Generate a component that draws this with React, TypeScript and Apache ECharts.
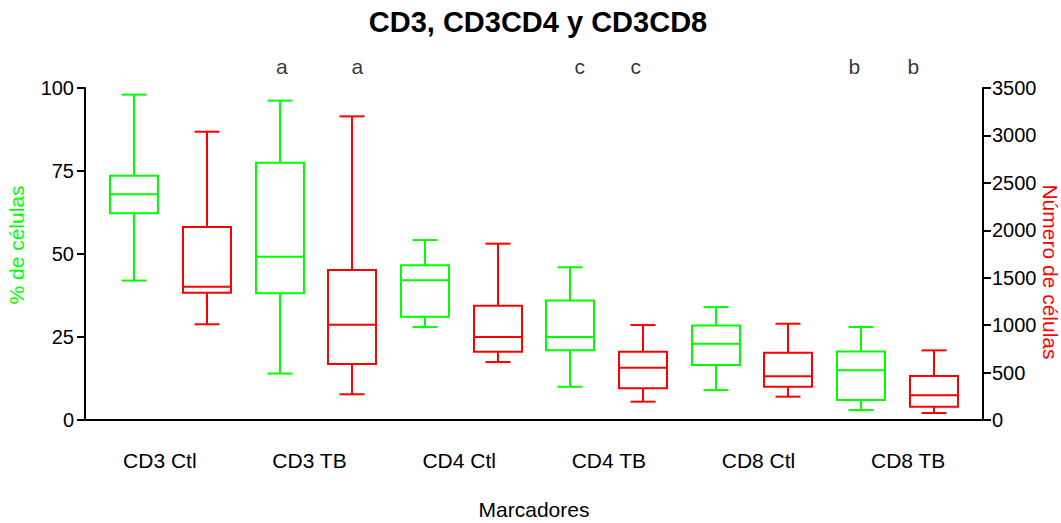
import React, { useEffect, useRef } from "react";
import * as echarts from "echarts";

const categories = ["CD3 Ctl", "CD3 TB", "CD4 Ctl", "CD4 TB", "CD8 Ctl", "CD8 TB"];
// [min, Q1, median, Q3, max] — % de células (left axis)
const pctStats = [
  [42, 62.3, 68, 73.6, 98],
  [14, 38.2, 49.2, 77.5, 96.2],
  [28, 31.1, 42.1, 46.6, 54.2],
  [10, 21, 25, 36, 46],
  [9, 16.6, 23, 28.5, 34],
  [3, 6, 15, 20.6, 28],
];
// [min, Q1, median, Q3, max] — Número de células (right axis)
const countStats = [
  [1009, 1342, 1405, 2035, 3039],
  [271, 590, 1005, 1581, 3201],
  [611, 720, 875, 1205, 1859],
  [193, 334, 552, 720, 1001],
  [246, 351, 460, 710, 1015],
  [74, 141, 260, 464, 734],
];
const leftTicks = { min: 0, max: 100, interval: 25 };
const rightTicks = { min: 0, max: 3500, interval: 500 };
const letters = ["a", "a", "c", "c", "b", "b"];
const letterX = [3.03, 4.07, 7.13, 7.9, 10.91, 11.72];
const letterY = 106.6;

const GREEN = "#00ff00";
const RED = "#ff0000";
const FONT = "Liberation Sans, Arial, sans-serif";

function makeRender(color: string) {
  const boxW = 48;
  const capW = 25;
  return (params: any, api: any) => {
    const x = api.value(0);
    const mn = api.coord([x, api.value(1)]);
    const q1 = api.coord([x, api.value(2)]);
    const md = api.coord([x, api.value(3)]);
    const q3 = api.coord([x, api.value(4)]);
    const mx = api.coord([x, api.value(5)]);
    const cx = Math.round(mn[0]);
    const style = { stroke: color, lineWidth: 2, fill: "none" };
    return {
      type: "group",
      children: [
        { type: "line", shape: { x1: cx, y1: mx[1], x2: cx, y2: q3[1] }, style },
        { type: "line", shape: { x1: cx - capW / 2, y1: mx[1], x2: cx + capW / 2, y2: mx[1] }, style },
        { type: "rect", shape: { x: cx - boxW / 2, y: q3[1], width: boxW, height: q1[1] - q3[1] }, style },
        { type: "line", shape: { x1: cx - boxW / 2, y1: md[1], x2: cx + boxW / 2, y2: md[1] }, style },
        { type: "line", shape: { x1: cx, y1: q1[1], x2: cx, y2: mn[1] }, style },
        { type: "line", shape: { x1: cx - capW / 2, y1: mn[1], x2: cx + capW / 2, y2: mn[1] }, style },
      ],
    };
  };
}

export default function App() {
  const ref = useRef<HTMLDivElement>(null);
  useEffect(() => {
    document.body.style.margin = "0";
    const chart = echarts.init(ref.current!, null, { renderer: "svg" });
    const greenData = pctStats.map((s, i) => [2 * i + 1, ...s]);
    const redData = countStats.map((s, i) => [2 * i + 2, ...s]);
    const axisLine = { show: true, onZero: false, lineStyle: { color: "#000", width: 2 } };
    chart.setOption({
      animation: false,
      backgroundColor: "#fff",
      textStyle: { fontFamily: FONT },
      title: {
        text: "CD3, CD3CD4 y CD3CD8",
        left: 533,
        textAlign: "center",
        top: 2,
        textStyle: { fontSize: 29, fontWeight: "bold", color: "#000", fontFamily: FONT },
      },
      grid: { left: 85, right: 78, top: 88, bottom: 103, containLabel: false, outerBoundsMode: "none" },
      xAxis: [
        {
          type: "value",
          min: 0.32,
          max: 12.68,
          axisLine,
          axisTick: { show: false },
          axisLabel: { show: false },
          splitLine: { show: false },
        },
        {
          type: "category",
          data: categories,
          position: "bottom",
          axisLine: { show: false },
          axisTick: { show: false },
          axisLabel: { fontSize: 21, color: "#000", margin: 30, fontFamily: FONT },
          name: "Marcadores",
          nameLocation: "middle",
          nameGap: 79,
          nameMoveOverlap: false,
          nameTextStyle: { fontSize: 21, color: "#000", fontFamily: FONT },
        },
      ],
      yAxis: [
        {
          type: "value",
          ...leftTicks,
          axisLine,
          axisTick: { show: true, length: 8, lineStyle: { color: "#000", width: 2 } },
          axisLabel: { fontSize: 20, color: "#000", margin: 11, fontFamily: FONT },
          splitLine: { show: false },
          name: "% de células",
          nameLocation: "middle",
          nameGap: 58,
          nameMoveOverlap: false,
          nameTextStyle: { fontSize: 21, color: GREEN, fontFamily: FONT, padding: [0, 0, 0, 18] },
        },
        {
          type: "value",
          position: "right",
          ...rightTicks,
          axisLine,
          axisTick: { show: true, length: 8, lineStyle: { color: "#000", width: 2 } },
          axisLabel: {
            fontSize: 20,
            color: "#000",
            margin: 9,
            fontFamily: FONT,
            formatter: (v: number) => String(v),
          },
          splitLine: { show: false },
          name: "Número de células",
          nameLocation: "middle",
          nameRotate: -90,
          nameGap: 57,
          nameMoveOverlap: false,
          nameTextStyle: { fontSize: 21, color: RED, fontFamily: FONT, padding: [0, 0, 0, 36] },
        },
      ],
      series: [
        {
          type: "custom",
          name: "% de células",
          xAxisIndex: 0,
          yAxisIndex: 0,
          renderItem: makeRender(GREEN),
          encode: { x: 0, y: [1, 2, 3, 4, 5] },
          data: greenData,
        },
        {
          type: "custom",
          name: "Número de células",
          xAxisIndex: 0,
          yAxisIndex: 1,
          renderItem: makeRender(RED),
          encode: { x: 0, y: [1, 2, 3, 4, 5] },
          data: redData,
        },
        {
          type: "scatter",
          xAxisIndex: 0,
          yAxisIndex: 0,
          clip: false,
          symbolSize: 2,
          itemStyle: { color: "transparent" },
          label: {
            show: true,
            position: "inside",
            formatter: "{b}",
            fontSize: 21,
            color: "#000",
            fontFamily: FONT,
          },
          data: letters.map((l, i) => ({ name: l, value: [letterX[i], letterY] })),
        },
      ],
    });
    return () => chart.dispose();
  }, []);
  return <div ref={ref} style={{ width: 1061, height: 523 }} />;
}
